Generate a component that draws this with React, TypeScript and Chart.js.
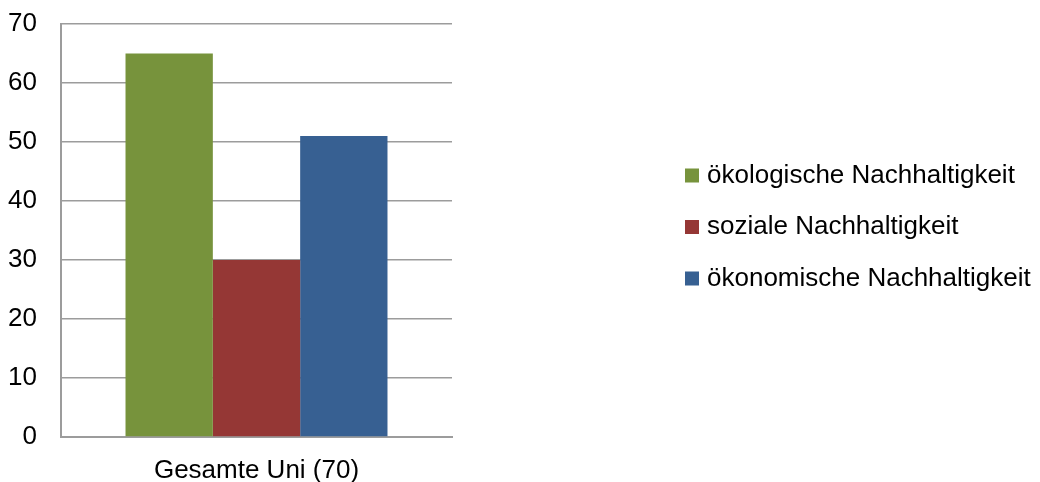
import React, { useEffect, useRef } from 'react';
import { Chart, registerables } from 'chart.js';

Chart.register(...registerables);

const categories = ['Gesamte Uni (70)'];
const seriesNames = ['ökologische Nachhaltigkeit', 'soziale Nachhaltigkeit', 'ökonomische Nachhaltigkeit'];
const oekologisch = [65];
const sozial = [30];
const oekonomisch = [51];
const seriesColors = ['#77933C', '#953735', '#376092'];
const yTickValues = [0, 10, 20, 30, 40, 50, 60, 70];

const FONT = "'Liberation Sans', Arial, sans-serif";
const GRID = '#9C9C9C';

// widens the built-in legend box so its labels are not clipped, and lifts it slightly
const legendBoxPlugin = {
  id: 'legendBox',
  afterInit(chart: any) {
    const lg = chart.legend;
    if (!lg) return;
    const orig = lg.fit.bind(lg);
    lg.fit = function () {
      orig();
      lg.width = 375.5;
    };
  },
  afterLayout(chart: any) {
    const lg = chart.legend;
    if (lg) lg.top -= 7;
  },
};

export default function App() {
  const ref = useRef<HTMLCanvasElement>(null);

  useEffect(() => {
    const seriesValues = [oekologisch, sozial, oekonomisch];
    const chart = new Chart(ref.current!, {
      type: 'bar',
      data: {
        labels: categories,
        datasets: seriesNames.map((name, i) => ({
          label: name,
          data: seriesValues[i],
          backgroundColor: seriesColors[i],
          borderWidth: 0,
          categoryPercentage: 0.67,
          barPercentage: 1,
        })),
      },
      plugins: [legendBoxPlugin],
      options: {
        animation: false,
        responsive: false,
        maintainAspectRatio: false,
        layout: { padding: 0 },
        plugins: {
          legend: {
            position: 'right',
            align: 'center',
            fullSize: false,
            labels: {
              usePointStyle: true,
              pointStyle: 'rect',
              boxWidth: 4,
              boxHeight: 14,
              padding: 25.5,
              color: '#000',
              font: { family: FONT, size: 26 },
            },
          },
          tooltip: { enabled: false },
        },
        scales: {
          x: {
            grid: { display: false },
            border: { display: true, color: GRID, width: 2 },
            ticks: { color: '#000', font: { family: FONT, size: 26 }, padding: 10 },
            afterFit: (s: any) => {
              s.height = 45;
            },
          },
          y: {
            min: yTickValues[0],
            max: yTickValues[yTickValues.length - 1],
            ticks: {
              stepSize: yTickValues[1] - yTickValues[0],
              color: '#000',
              font: { family: FONT, size: 26 },
              padding: 24,
            },
            grid: { color: GRID, lineWidth: 1.5, drawTicks: false },
            border: { display: true, color: GRID, width: 2 },
            afterFit: (s: any) => {
              s.width = 61;
              s.paddingTop = 24;
            },
          },
          y2: {
            position: 'right',
            display: true,
            grid: { display: false },
            border: { display: false },
            ticks: { display: false },
            afterFit: (s: any) => {
              s.width = 212.5;
            },
          },
        },
      },
    });
    return () => chart.destroy();
  }, []);

  return (
    <div style={{ position: 'fixed', left: 0, top: 0, width: 1040, height: 482, background: '#fff' }}>
      <canvas ref={ref} width={1040} height={482} style={{ width: 1040, height: 482, display: 'block' }} />
    </div>
  );
}
